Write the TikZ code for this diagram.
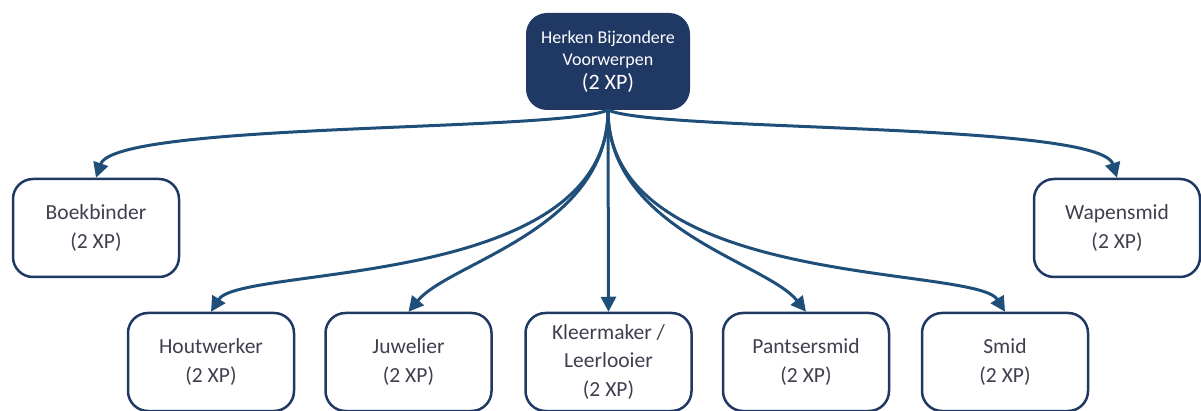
\documentclass[tikz,border=0pt]{standalone}
\usepackage{fontspec}
\setmainfont{Carlito}
\usetikzlibrary{arrows.meta}
\definecolor{navy}{HTML}{203864}
\definecolor{connblue}{HTML}{1F4E79}
\definecolor{txt}{HTML}{3F3F4F}
\tikzset{
  box/.style={draw=navy, line width=2.5pt, rounded corners=20pt, fill=white,
    minimum width=166pt, minimum height=98pt, align=center, text=txt,
    font=\fontsize{21.5}{28.5}\selectfont, inner sep=0pt},
  rootbox/.style={draw=navy, fill=navy, line width=2pt, rounded corners=20pt,
    minimum width=162pt, minimum height=95pt, align=center, text=white, inner sep=0pt,
    font=\fontsize{18}{22}\selectfont},
  conn/.style={draw=connblue, line width=3pt, -{Triangle[length=15pt,width=15pt]}}
}
\begin{document}
\begin{tikzpicture}[x=1pt,y=-1pt]
\useasboundingbox (0,0) rectangle (1201,411);
\clip (0,0) rectangle (1201,411);
\node[rootbox] (root) at (608,61.5) {Herken Bijzondere\\Voorwerpen\\[2pt] {\fontsize{22}{24}\selectfont (2 XP)}};
\node[box] (bk) at (96,228) {Boekbinder\\(2 XP)};
\node[box] (wp) at (1117,228) {Wapensmid\\(2 XP)};
\node[box] (hw) at (211,362) {Houtwerker\\(2 XP)};
\node[box] (jw) at (408.5,362) {Juwelier\\(2 XP)};
\node[box] (kl) at (608.5,362) {Kleermaker /\\Leerlooier\\(2 XP)};
\node[box] (ps) at (806,362) {Pantsersmid\\(2 XP)};
\node[box] (sm) at (1005,362) {Smid\\(2 XP)};
\draw[conn] (root.south) .. controls (560,132) and (115,122) .. (bk.north);
\draw[conn] (root.south) .. controls (656,132) and (1100,122) .. (wp.north);
\draw[conn] (root.south) .. controls (608,290) and (240,265) .. (hw.north);
\draw[conn] (root.south) .. controls (608,230) and (450,262) .. (jw.north);
\draw[conn] (root.south) -- (kl.north);
\draw[conn] (root.south) .. controls (608,230) and (766,262) .. (ps.north);
\draw[conn] (root.south) .. controls (608,290) and (976,265) .. (sm.north);
\end{tikzpicture}
\end{document}
